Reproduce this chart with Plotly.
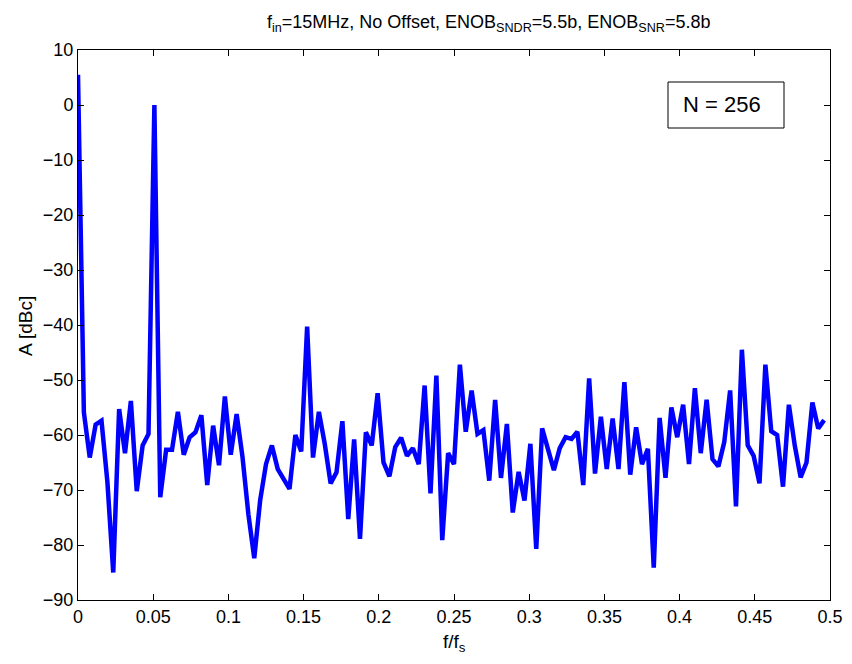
import plotly.graph_objects as go

N = 256
bins = list(range(128))
freq = [k / N for k in bins]

amplitude_dbc = [
    5.5, -55.9, -64.1, -58.1, -57.4, -68.5, -85.0, -55.3, -63.3, -53.8,
    -70.2, -61.9, -59.8, 0.0, -71.3, -62.7, -62.7, -55.8, -63.6, -60.4,
    -59.5, -56.4, -69.1, -58.3, -65.5, -53.0, -63.6, -56.2, -64.0, -74.4,
    -82.4, -71.9, -65.3, -61.9, -66.2, -68.0, -69.8, -60.0, -63.0, -40.3,
    -64.1, -55.8, -61.6, -68.8, -66.8, -57.5, -75.3, -60.8, -78.9, -59.5,
    -61.9, -52.4, -65.0, -67.5, -62.2, -60.5, -63.8, -62.4, -65.3, -51.0,
    -70.6, -49.2, -79.1, -63.3, -65.3, -47.2, -59.4, -51.9, -59.8, -59.1,
    -68.3, -53.6, -67.8, -58.0, -74.1, -66.7, -71.9, -61.6, -80.7, -58.8,
    -63.0, -66.4, -62.4, -60.4, -60.7, -59.4, -69.1, -49.7, -67.0, -56.7,
    -66.2, -57.0, -66.2, -50.4, -67.2, -58.6, -65.3, -62.5, -84.1, -56.9,
    -67.8, -55.0, -60.4, -54.5, -65.3, -51.5, -63.3, -53.6, -64.4, -65.7,
    -61.3, -51.9, -73.0, -44.5, -61.9, -63.8, -68.8, -47.2, -59.3, -60.0,
    -69.4, -54.5, -61.9, -67.7, -65.0, -54.1, -58.8, -57.3,
]

x_ticks = [0, 0.05, 0.1, 0.15, 0.2, 0.25, 0.3, 0.35, 0.4, 0.45, 0.5]
x_tick_labels = ["0", "0.05", "0.1", "0.15", "0.2", "0.25", "0.3", "0.35", "0.4", "0.45", "0.5"]
y_ticks = [10, 0, -10, -20, -30, -40, -50, -60, -70, -80, -90]

title_text = "f<sub>in</sub>=15MHz, No Offset, ENOB<sub>SNDR</sub>=5.5b, ENOB<sub>SNR</sub>=5.8b"
box_text = "N = 256"

FONT = "Liberation Sans, Arial, Helvetica, sans-serif"

fig = go.Figure()
fig.add_trace(go.Scatter(
    x=freq, y=amplitude_dbc, mode="lines",
    line=dict(color="#0000ff", width=4.5),
    showlegend=False, hoverinfo="skip",
))

# page body has an 8px default margin; compensate so the plot lands where the reference has it
OFF = 8
W, H = 852 - OFF, 664 - OFF
ml, mr, mt, mb = 78 - OFF, 22, 50 - OFF, 64
pw = W - ml - mr
ph = H - mt - mb

def px_to_paper_x(px):
    return (px - OFF - ml) / pw

def px_to_paper_y(py):
    return (H - mb - (py - OFF)) / ph

axis_common = dict(
    showline=True, linecolor="black", linewidth=1, mirror="ticks",
    ticks="inside", ticklen=6, tickcolor="black", tickwidth=1,
    showgrid=False, zeroline=False, automargin=False,
    tickfont=dict(family=FONT, size=18, color="black"),
)

fig.update_layout(
    width=W, height=H,
    margin=dict(l=ml, r=mr, t=mt, b=mb),
    paper_bgcolor="white", plot_bgcolor="white",
    font=dict(family=FONT, color="black"),
    xaxis=dict(
        range=[0, 0.5], tickvals=x_ticks, ticktext=x_tick_labels,
        **axis_common,
    ),
    yaxis=dict(
        range=[-90, 10], tickvals=y_ticks,
        **axis_common,
    ),
    shapes=[dict(
        type="rect", xref="paper", yref="paper",
        x0=px_to_paper_x(668), x1=px_to_paper_x(784),
        y0=px_to_paper_y(128), y1=px_to_paper_y(82),
        line=dict(color="black", width=1), fillcolor="white", layer="above",
    )],
    annotations=[
        dict(text=box_text, xref="paper", yref="paper",
             x=px_to_paper_x(722), y=px_to_paper_y(105),
             xanchor="center", yanchor="middle", showarrow=False,
             font=dict(family=FONT, size=22, color="black")),
        dict(text=title_text, xref="paper", yref="paper",
             x=px_to_paper_x(488), y=px_to_paper_y(24),
             xanchor="center", yanchor="middle", showarrow=False,
             font=dict(family=FONT, size=18, color="black")),
        dict(text="A [dBc]", xref="paper", yref="paper",
             x=px_to_paper_x(25), y=px_to_paper_y(326),
             xanchor="center", yanchor="middle", showarrow=False, textangle=-90,
             font=dict(family=FONT, size=19, color="black")),
        dict(text="f/f<sub>s</sub>", xref="paper", yref="paper",
             x=px_to_paper_x(454), y=px_to_paper_y(643),
             xanchor="center", yanchor="middle", showarrow=False,
             font=dict(family=FONT, size=19, color="black")),
    ],
)

fig.write_html("out.html")
